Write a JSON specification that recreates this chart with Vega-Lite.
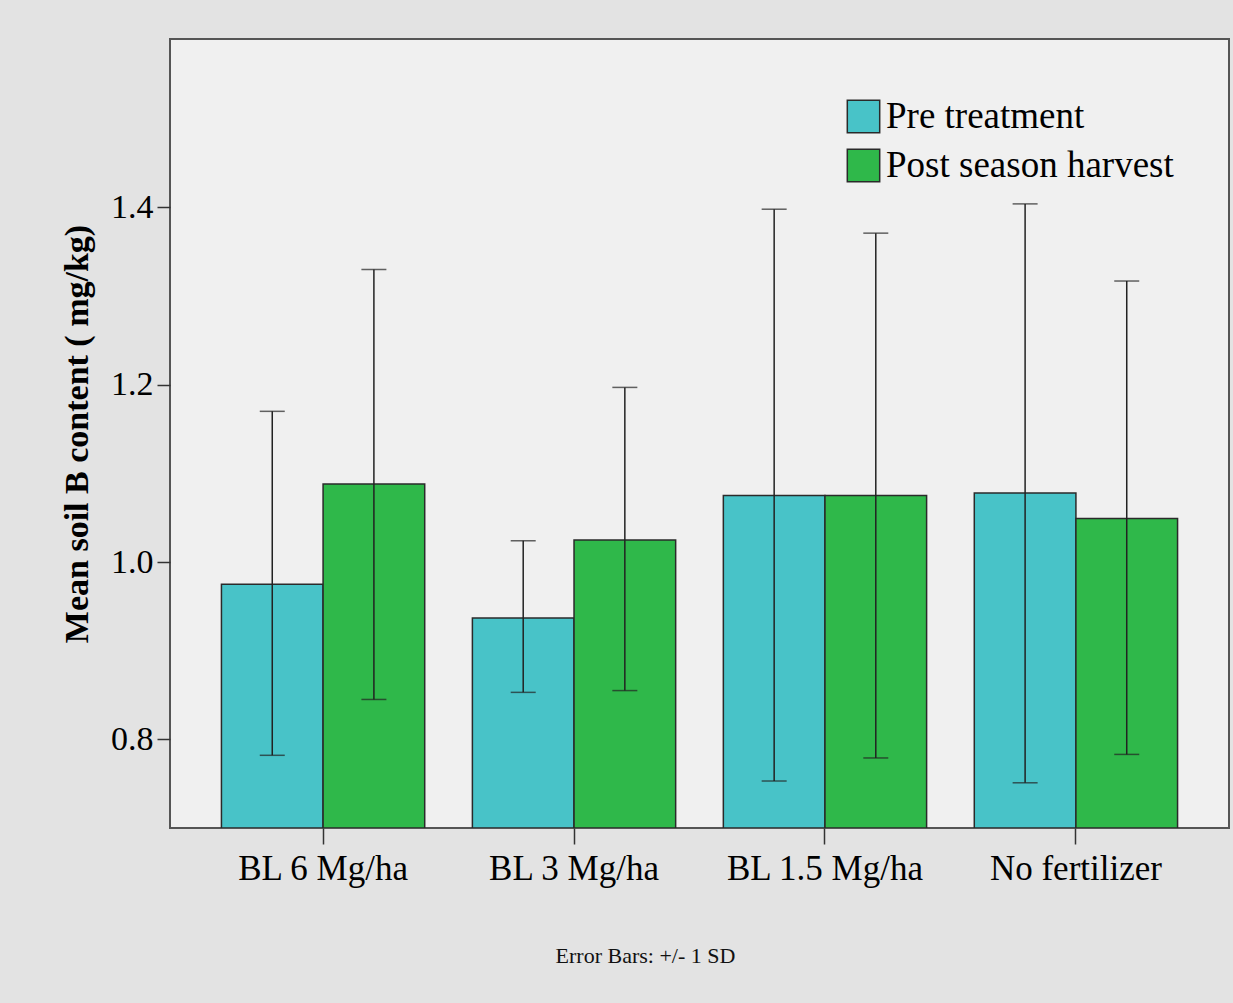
{
  "$schema": "https://vega.github.io/schema/vega-lite/v6.json",
  "autosize": {"type": "none"},
  "width": 1059,
  "height": 789,
  "padding": {"left": 170, "top": 39, "right": 4, "bottom": 175},
  "background": "#e3e3e3",
  "config": {
    "font": "Liberation Serif",
    "view": {"fill": "#f0f0f0", "stroke": "#555555", "strokeWidth": 2},
    "axis": {"grid": false, "labelColor": "#000", "titleColor": "#000", "domainColor": "#333", "tickColor": "#333", "labelFont": "Liberation Serif", "titleFont": "Liberation Serif"},
    "legend": {"labelFont": "Liberation Serif"}
  },
  "title": {
    "text": "Error Bars: +/- 1 SD",
    "orient": "bottom",
    "anchor": "middle",
    "frame": "group",
    "fontSize": 22,
    "fontWeight": "normal",
    "font": "Liberation Serif",
    "color": "#111",
    "dx": -54,
    "offset": 60
  },
  "data": {
    "values": [
      {"category": "BL 6 Mg/ha", "period": "Pre treatment", "mean": 0.975, "low": 0.782, "high": 1.170},
      {"category": "BL 6 Mg/ha", "period": "Post season harvest", "mean": 1.088, "low": 0.845, "high": 1.330},
      {"category": "BL 3 Mg/ha", "period": "Pre treatment", "mean": 0.937, "low": 0.853, "high": 1.024},
      {"category": "BL 3 Mg/ha", "period": "Post season harvest", "mean": 1.025, "low": 0.855, "high": 1.197},
      {"category": "BL 1.5 Mg/ha", "period": "Pre treatment", "mean": 1.075, "low": 0.753, "high": 1.398},
      {"category": "BL 1.5 Mg/ha", "period": "Post season harvest", "mean": 1.075, "low": 0.779, "high": 1.371},
      {"category": "No fertilizer", "period": "Pre treatment", "mean": 1.078, "low": 0.751, "high": 1.404},
      {"category": "No fertilizer", "period": "Post season harvest", "mean": 1.049, "low": 0.783, "high": 1.317}
    ]
  },
  "encoding": {
    "x": {
      "field": "category",
      "type": "nominal",
      "sort": ["BL 6 Mg/ha", "BL 3 Mg/ha", "BL 1.5 Mg/ha", "No fertilizer"],
      "scale": {"paddingInner": 0.19, "paddingOuter": 0.205},
      "axis": {
        "title": null,
        "labelAngle": 0,
        "labelFontSize": 35,
        "labelLimit": 0,
        "labelPadding": 7,
        "tickSize": 16,
        "tickWidth": 1.5,
        "domain": false
      }
    },
    "xOffset": {
      "field": "period",
      "type": "nominal",
      "sort": ["Pre treatment", "Post season harvest"],
      "scale": {"paddingInner": 0, "paddingOuter": 0}
    }
  },
  "layer": [
    {
      "mark": {"type": "bar", "stroke": "#2a2a2a", "strokeWidth": 1.5, "clip": true},
      "encoding": {
        "y": {
          "field": "mean",
          "type": "quantitative",
          "scale": {"domain": [0.7, 1.59], "zero": false, "nice": false},
          "axis": {
            "title": "Mean soil B content ( mg/kg)",
            "titleFontSize": 34,
            "titleFontWeight": "bold",
            "titlePadding": 16,
            "values": [0.8, 1.0, 1.2, 1.4],
            "format": ".1f",
            "labelFontSize": 34,
            "labelPadding": 4,
            "tickSize": 13,
            "tickWidth": 1.5,
            "domain": false
          }
        },
        "y2": {"datum": 0.7},
        "color": {
          "field": "period",
          "type": "nominal",
          "sort": ["Pre treatment", "Post season harvest"],
          "scale": {"domain": ["Pre treatment", "Post season harvest"], "range": ["#48c3c8", "#2fb84a"]},
          "legend": {
            "title": null,
            "orient": "none",
            "legendX": 675,
            "legendY": 59,
            "symbolType": "square",
            "symbolSize": 1050,
            "symbolStrokeColor": "#2a2a2a",
            "symbolStrokeWidth": 1.5,
            "symbolOpacity": 1,
            "labelFontSize": 37,
            "labelLimit": 0,
            "labelColor": "#000",
            "labelOffset": 4,
            "rowPadding": 10
          }
        }
      }
    },
    {
      "mark": {"type": "rule", "color": "#222", "strokeWidth": 1.5},
      "encoding": {
        "y": {"field": "low", "type": "quantitative"},
        "y2": {"field": "high"}
      }
    },
    {
      "mark": {"type": "tick", "color": "#222", "thickness": 1.5, "size": 25, "orient": "horizontal"},
      "encoding": {"y": {"field": "low", "type": "quantitative"}}
    },
    {
      "mark": {"type": "tick", "color": "#222", "thickness": 1.5, "size": 25, "orient": "horizontal"},
      "encoding": {"y": {"field": "high", "type": "quantitative"}}
    }
  ]
}
